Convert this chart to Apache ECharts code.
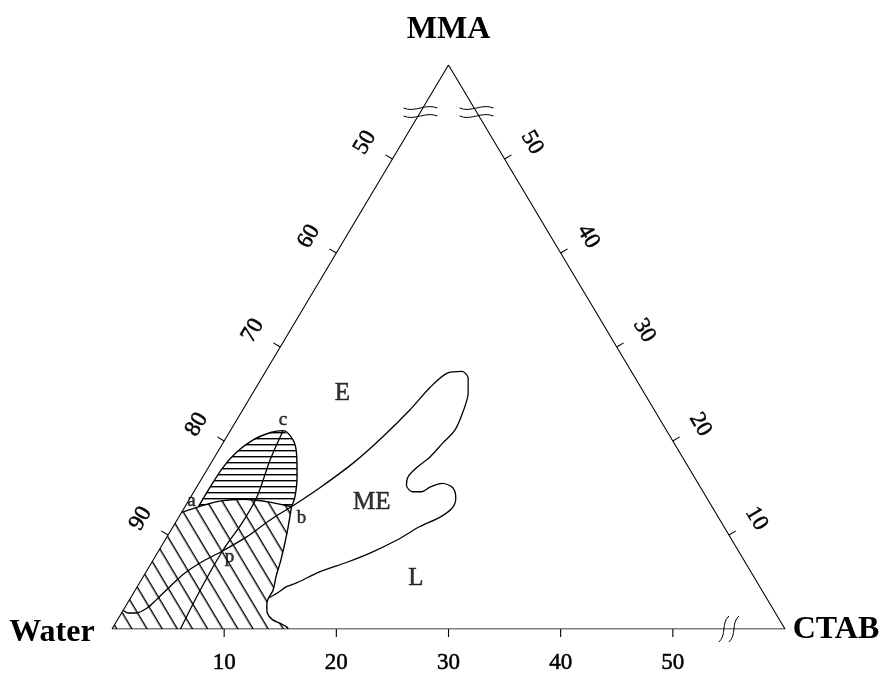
<!DOCTYPE html>
<html>
<head>
<meta charset="utf-8">
<script src="https://cdn.jsdelivr.net/npm/echarts@6/dist/echarts.min.js"></script>
<style>
  html, body { margin: 0; padding: 0; background: #fff; }
  #chart { width: 887px; height: 673px; }
</style>
</head>
<body>
<div id="chart"></div>
<script>
// Water / CTAB / MMA phase diagram. Every composition is wt% written as
// [CTAB, MMA]; water makes up the rest. The visible part of the triangle
// spans 0-60 % CTAB and 0-60 % MMA (40-100 % water).
const SPAN = 60;

const bottomTicks = [10, 20, 30, 40, 50];   // CTAB
const leftTicks = [90, 80, 70, 60, 50];     // water
const rightTicks = [10, 20, 30, 40, 50];    // MMA
const axisBreaks = [[0, 55], [1, 45], [2, 55]]; // [side, value]

// named compositions
const pointNames = ['a', 'b', 'c', 'p'];
const pointComps = [[1.2, 13.0], [9.5, 13.0], [4.7, 21.1], [5.7, 8.3]];

// region names
const regionNames = ['E', 'ME', 'L'];
const regionComps = [[8.0, 25.1], [16.4, 13.5], [24.4, 5.4]];

// upper (horizontally hatched) region: a -> c, then c -> b
const lensTop = [[1.2, 13.0], [1.2, 15.1], [1.3, 17.2], [1.7, 18.8], [2.5, 20.1], [3.7, 20.9], [4.7, 21.1]];
const lensRight = [[4.7, 21.1], [6.1, 20.1], [7.1, 18.7], [8.4, 16.2], [9.3, 14.0], [9.5, 13.0]];
// boundary a -> b between the two hatched regions
const boundaryAB = [[1.2, 13.0], [2.8, 13.6], [4.8, 13.8], [7.3, 13.5], [9.5, 13.0]];
// lower (diagonally hatched) region, right side b -> base
const lowerRight = [[9.5, 13.0], [10.5, 10.2], [11.4, 7.3], [11.8, 5.7], [12.3, 4.1], [12.3, 3.3],
  [12.5, 2.6], [13.0, 1.7], [13.8, 1.0], [14.7, 0.6], [15.5, 0.2], [15.7, 0]];
// lower region closes along the base to the water corner and up the water-MMA side
const lowerClose = [[0, 0], [0, 12.4]];

// microemulsion (ME) boundary, from b round the lobe back to the hatched region
const meBoundary = [[9.5, 13.0], [11.0, 15.0], [12.7, 17.7], [13.9, 20.4], [14.9, 23.3], [15.5, 25.7],
  [16.25, 27.2], [17.5, 27.4], [18.4, 26.7], [19.2, 25.1], [19.7, 23.3], [20.0, 21.2], [19.6, 19.8],
  [19.2, 18.3], [18.6, 17.2], [18.3, 16.2], [18.6, 15.3], [19.5, 14.6], [20.3, 14.6], [20.8, 15.1],
  [21.7, 15.5], [22.9, 15.0], [23.7, 13.9], [23.9, 12.9], [23.3, 11.9], [22.0, 10.9], [20.7, 9.5],
  [19.0, 8.1], [17.4, 7.1], [15.5, 6.1], [14.0, 4.9], [13.3, 4.5], [12.8, 3.8], [12.3, 3.3]];

// path c -> p -> base
const pathCP = [[4.7, 21.1], [5.1, 18.0], [5.9, 14.0], [5.95, 11.3], [5.7, 8.3], [5.8, 4.1], [6.1, 0]];
// path b -> p -> water-MMA side
const pathBP = [[9.5, 13.0], [8.3, 11.6], [7.1, 9.8], [5.7, 8.3], [4.3, 7.0], [3.5, 5.9], [2.9, 4.5],
  [2.4, 3.1], [2.0, 2.2], [1.3, 1.7], [0.6, 1.7], [0, 2.0]];

// triangle corners: Water, CTAB, MMA
const cornerNames = ['Water', 'CTAB', 'MMA'];
const cornerComps = [[0, 0], [SPAN, 0], [0, SPAN]];

// ---------------------------------------------------------------------------
const SQ3_2 = Math.sqrt(3) / 2;
function toXY(c) { return [c[0] + c[1] / 2, c[1] * SQ3_2]; }

function sideComp(side, v) {
  if (side === 0) return [v, 0];          // CTAB along the base
  if (side === 1) return [0, 100 - v];    // water along the left side
  return [SPAN - v, v];                   // MMA along the right side
}

const SERIF = '"Liberation Serif", "Times New Roman", serif';

function hatchTile(gap, thick) {
  const c = document.createElement('canvas');
  c.width = 8; c.height = gap;
  const g = c.getContext('2d');
  g.fillStyle = '#000';
  g.fillRect(0, 0, 8, thick);
  return c;
}
const horizHatch = { image: hatchTile(6, 1.4), repeat: 'repeat' };
const diagHatch = { image: hatchTile(13, 1.4), repeat: 'repeat', rotation: 59.2 * Math.PI / 180 };

function sideGeometry(api, side, p) {
  const W = api.coord(toXY(cornerComps[0]));
  const C = api.coord(toXY(cornerComps[1]));
  const M = api.coord(toXY(cornerComps[2]));
  let a, b;
  if (side === 0) { a = W; b = C; } else if (side === 1) { a = W; b = M; } else { a = M; b = C; }
  let dx = b[0] - a[0], dy = b[1] - a[1];
  const len = Math.hypot(dx, dy); dx /= len; dy /= len;
  const cx = (W[0] + C[0] + M[0]) / 3, cy = (W[1] + C[1] + M[1]) / 3;
  let nx = -dy, ny = dx;
  if ((p[0] - cx) * nx + (p[1] - cy) * ny < 0) { nx = -nx; ny = -ny; }
  return { dx, dy, nx, ny };
}

// hatched fill of a region (outline drawn separately)
function fillSeries(points, pattern, smooth) {
  return {
    type: 'custom',
    coordinateSystem: 'cartesian2d',
    silent: true,
    clip: false,
    data: [[0, 0]],
    z: 2,
    renderItem: (params, api) => ({
      type: 'polygon',
      shape: { points: points.map(p => api.coord(toXY(p))), smooth: smooth },
      style: { fill: pattern, stroke: null }
    })
  };
}

function curveSeries(points, width, smooth) {
  return {
    type: 'line',
    data: points.map(toXY),
    smooth: smooth,
    showSymbol: false,
    silent: true,
    lineStyle: { color: '#000', width: width },
    z: 5
  };
}

const lensPolygon = lensTop.concat(lensRight.slice(1), boundaryAB.slice(1, -1).reverse());
const lowerPolygon = boundaryAB.concat(lowerRight.slice(1), lowerClose);
const lensOutline = lensTop.concat(lensRight.slice(1));
const lowerLeftLink = [lowerClose[1], boundaryAB[0]];

const tickData = [
  ...bottomTicks.map(v => [0, v]),
  ...leftTicks.map(v => [1, v]),
  ...rightTicks.map(v => [2, v])
];

const cornerOffsets = [[-60, 4], [51, 1], [0, -35]];
const pointOffsets = { a: [-7, -6], b: [10, 11], c: [0, -11], p: [7, 6] };

const textInk = { color: '#000', textBorderColor: '#000', textBorderWidth: 0.5 };

const chart = echarts.init(document.getElementById('chart'), null, { renderer: 'canvas' });

chart.setOption({
  backgroundColor: '#fff',
  animation: false,
  grid: { left: 112, right: 102, top: 65, bottom: 44 },
  xAxis: { type: 'value', min: 0, max: SPAN, show: false },
  yAxis: { type: 'value', min: 0, max: SPAN * SQ3_2, show: false },
  series: [
    fillSeries(lowerPolygon, diagHatch, 0),
    fillSeries(lensPolygon, horizHatch, 0.2),
    curveSeries(lensOutline, 1.4, 0.3),
    curveSeries(boundaryAB, 1.4, 0.3),
    curveSeries(lowerRight, 1.4, 0.3),
    curveSeries(lowerLeftLink, 1.4, 0),
    curveSeries(meBoundary, 1.3, 0.3),
    curveSeries(pathCP, 1.3, 0.3),
    curveSeries(pathBP, 1.3, 0.3),
    {
      // triangle outline
      type: 'line',
      data: cornerComps.concat([cornerComps[0]]).map(toXY),
      showSymbol: false,
      silent: true,
      lineStyle: { color: '#000', width: 1.1 },
      z: 6
    },
    {
      // ticks and tick labels on the three sides
      type: 'custom',
      coordinateSystem: 'cartesian2d',
      silent: true,
      clip: false,
      data: tickData,
      z: 6,
      renderItem: (params, api) => {
        const side = api.value(0), v = api.value(1);
        const p = api.coord(toXY(sideComp(side, v)));
        const g = sideGeometry(api, side, p);
        const tick = 8, gap = side === 0 ? 34 : 32;
        const rot = side === 0 ? 0 : -Math.atan2(g.dy, g.dx);
        return {
          type: 'group',
          children: [
            {
              type: 'line',
              shape: { x1: p[0], y1: p[1], x2: p[0] + g.nx * tick, y2: p[1] + g.ny * tick },
              style: { stroke: '#000', lineWidth: 1.1 }
            },
            {
              type: 'text',
              x: p[0] + g.nx * gap,
              y: p[1] + g.ny * gap,
              rotation: rot,
              style: {
                text: String(v), fill: '#000', stroke: '#000', lineWidth: 0.5,
                font: '23px ' + SERIF,
                align: 'center', verticalAlign: 'middle'
              }
            }
          ]
        };
      }
    },
    {
      // axis break marks
      type: 'custom',
      coordinateSystem: 'cartesian2d',
      silent: true,
      clip: false,
      data: axisBreaks,
      z: 7,
      renderItem: (params, api) => {
        const side = api.value(0), v = api.value(1);
        const p = api.coord(toXY(sideComp(side, v)));
        let d, s, L, A, off;
        if (side === 0) {
          d = [0.36, -0.93]; s = [1, 0]; L = 28; A = 5; off = 5;
        } else {
          d = [1, 0]; s = [0, 1]; L = 34; A = 5; off = 4;
        }
        const n = [-d[1], d[0]];
        const children = [-1, 1].map(k => {
          const sx = p[0] - d[0] * L / 2 + s[0] * off * k;
          const sy = p[1] - d[1] * L / 2 + s[1] * off * k;
          return {
            type: 'bezierCurve',
            shape: {
              x1: sx, y1: sy,
              x2: sx + d[0] * L, y2: sy + d[1] * L,
              cpx1: sx + d[0] * L / 3 + n[0] * A, cpy1: sy + d[1] * L / 3 + n[1] * A,
              cpx2: sx + d[0] * 2 * L / 3 - n[0] * A, cpy2: sy + d[1] * 2 * L / 3 - n[1] * A
            },
            style: { stroke: '#000', lineWidth: 1, fill: null }
          };
        });
        return { type: 'group', children };
      }
    },
    {
      // corner component names
      type: 'custom',
      coordinateSystem: 'cartesian2d',
      silent: true,
      clip: false,
      data: cornerComps.map(toXY),
      z: 7,
      renderItem: (params, api) => {
        const i = params.dataIndex;
        const p = api.coord([api.value(0), api.value(1)]);
        return {
          type: 'text',
          x: p[0] + cornerOffsets[i][0],
          y: p[1] + cornerOffsets[i][1],
          style: {
            text: cornerNames[i], fill: '#000',
            font: 'bold 32px ' + SERIF,
            align: 'center', verticalAlign: 'middle'
          }
        };
      }
    },
    {
      // named points a, b, c, p
      type: 'scatter',
      silent: true,
      symbolSize: 0,
      z: 8,
      data: pointNames.map((name, i) => ({
        name, value: toXY(pointComps[i]),
        label: { offset: pointOffsets[name] }
      })),
      label: Object.assign({
        show: true, position: 'inside', formatter: '{b}',
        fontFamily: SERIF, fontSize: 19
      }, textInk)
    },
    {
      // phase region names
      type: 'scatter',
      silent: true,
      symbolSize: 0,
      z: 8,
      data: regionNames.map((name, i) => ({ name, value: toXY(regionComps[i]) })),
      label: Object.assign({
        show: true, position: 'inside', formatter: '{b}',
        fontFamily: SERIF, fontSize: 25
      }, textInk)
    }
  ]
});
</script>
</body>
</html>
